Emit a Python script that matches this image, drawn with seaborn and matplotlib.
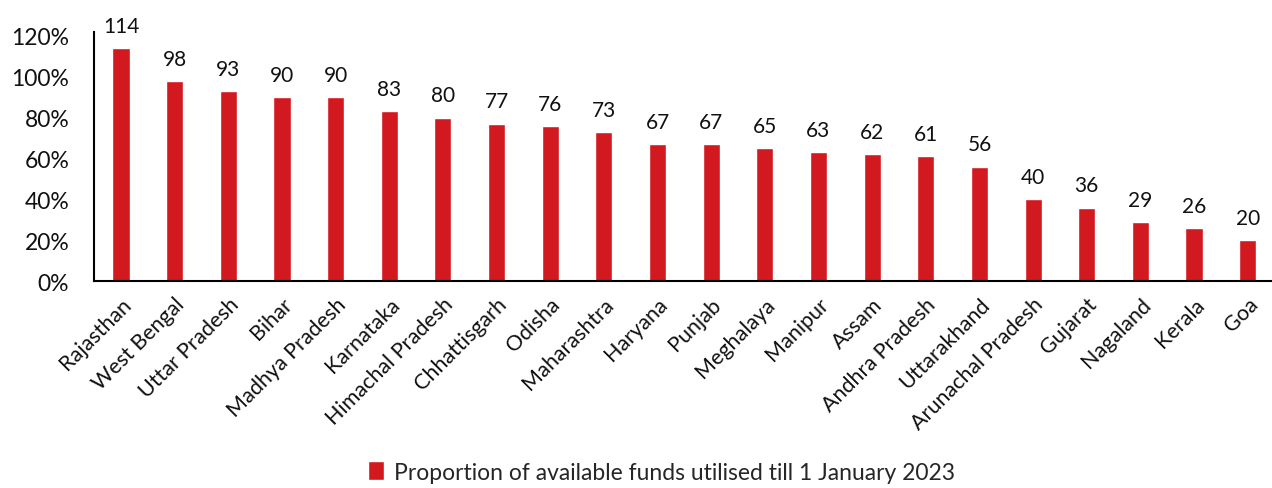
import matplotlib
matplotlib.use("Agg")
import matplotlib.pyplot as plt
import pandas as pd
import seaborn as sns
from matplotlib.patches import Patch
from matplotlib.ticker import FuncFormatter

sns.set_theme(style="white")
plt.rcParams['font.family'] = ['Lato', 'DejaVu Sans']

states = ["Rajasthan", "West Bengal", "Uttar Pradesh", "Bihar", "Madhya Pradesh",
          "Karnataka", "Himachal Pradesh", "Chhattisgarh", "Odisha", "Maharashtra",
          "Haryana", "Punjab", "Meghalaya", "Manipur", "Assam", "Andhra Pradesh",
          "Uttarakhand", "Arunachal Pradesh", "Gujarat", "Nagaland", "Kerala", "Goa"]
utilised = [114, 98, 93, 90, 90, 83, 80, 77, 76, 73, 67, 67, 65, 63, 62, 61,
            56, 40, 36, 29, 26, 20]
legend_label = "Proportion of available funds utilised till 1 January 2023"
bar_color = "#d1191f"

df = pd.DataFrame({"state": states, "pct": utilised})

fig = plt.figure(figsize=(12.72, 4.89), dpi=100)
ax = fig.add_axes([0.074, 0.423, 0.928, 0.51])
sns.barplot(data=df, x="state", y="pct", color=bar_color, width=0.32,
            saturation=1, ax=ax)

# value labels above the bars
for i, v in enumerate(utilised):
    ax.text(i, v + 6, str(v), ha="center", va="bottom", fontsize=15, color="#111111")

ax.set_ylim(0, 122)
ax.set_xlim(-0.5, len(states) - 0.5)
ax.set_yticks(range(0, 121, 20))
ax.yaxis.set_major_formatter(FuncFormatter(lambda v, p: f"{int(v)}%"))
ax.tick_params(axis="y", labelsize=16.5, colors="#111111", pad=18, length=0)
ax.tick_params(axis="x", labelsize=15.5, colors="#111111", length=0, pad=9)
plt.setp(ax.get_xticklabels(), rotation=45, ha="right", rotation_mode="anchor")
ax.set_xlabel("")
ax.set_ylabel("")

for side in ["top", "right"]:
    ax.spines[side].set_visible(False)
for side in ["left", "bottom"]:
    ax.spines[side].set_color("black")
    ax.spines[side].set_linewidth(1.5)

handles = [Patch(facecolor=bar_color, label=legend_label)]
fig.legend(handles=handles, loc="center", bbox_to_anchor=(0.52, 0.033), frameon=False,
           fontsize=16.5, handlelength=0.7, handleheight=0.9, handletextpad=0.4)

fig.savefig("out.png", dpi=100)
